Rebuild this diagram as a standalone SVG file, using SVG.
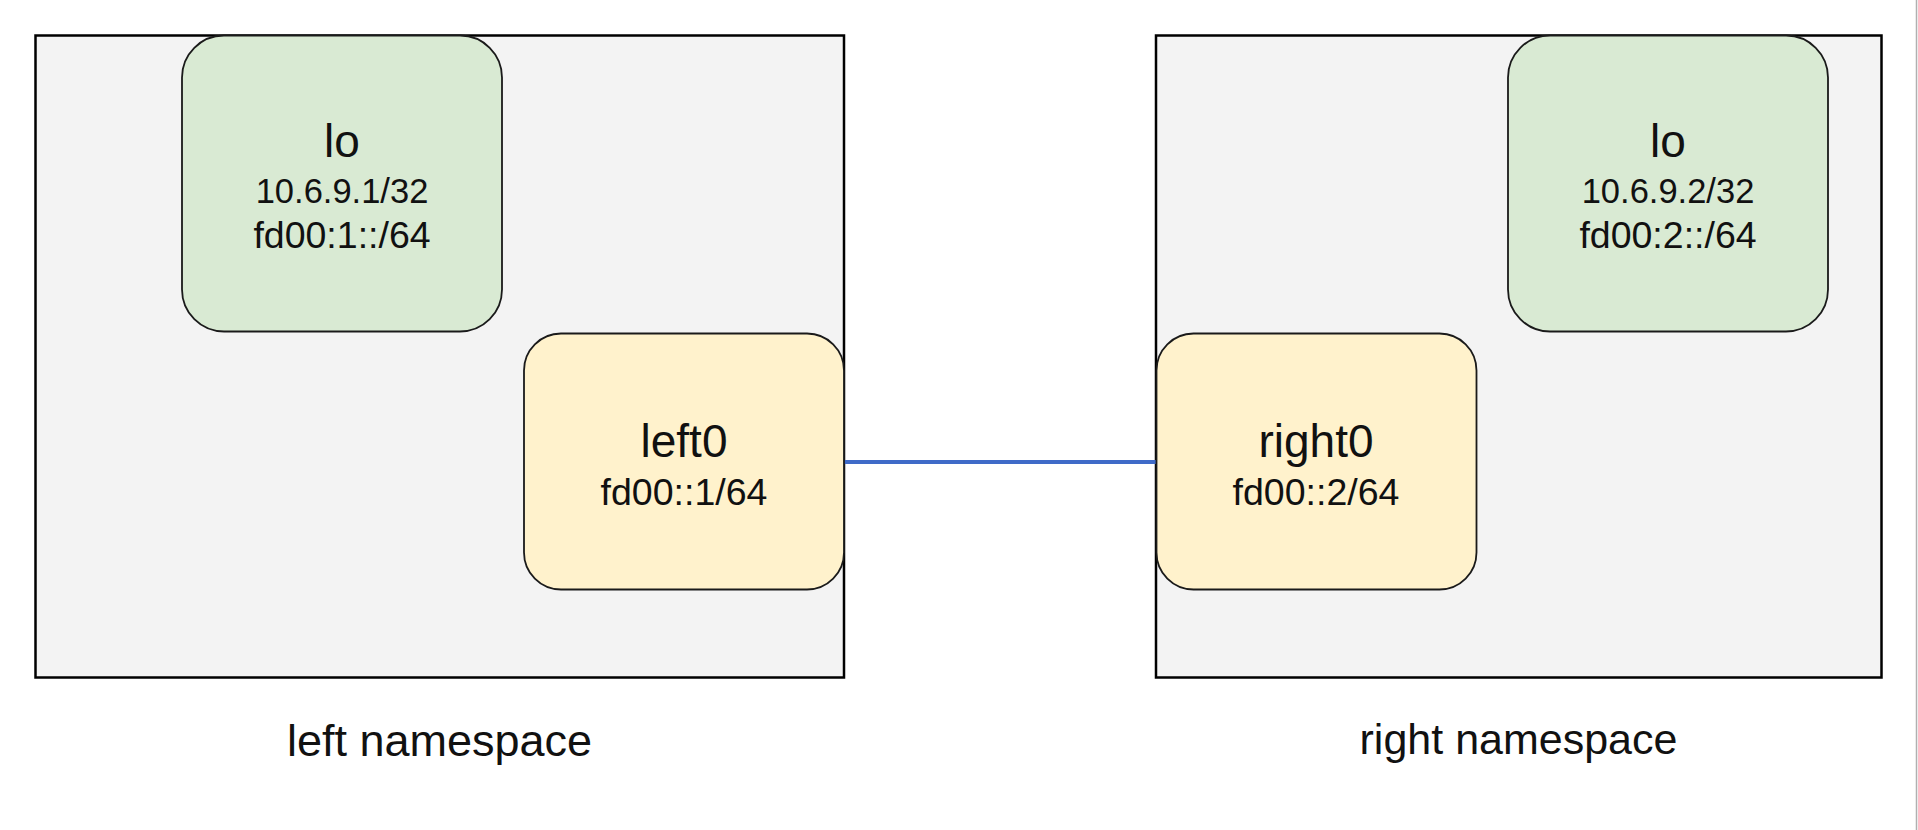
<svg xmlns="http://www.w3.org/2000/svg" width="1918" height="830" viewBox="0 0 1918 830">
<style>
.ns{fill:#f3f3f3;stroke:#000;stroke-width:2.5}
.lo{fill:#d9ead3;stroke:#1a1a1a;stroke-width:1.8}
.if{fill:#fff2cc;stroke:#1a1a1a;stroke-width:1.8}
text{font-family:"Liberation Sans",Arial,sans-serif;fill:#111;text-anchor:middle}
.t1{font-size:46px}
.t2{font-size:34.5px}
.t3{font-size:37.5px}
.lbl{font-size:45px}
.lbr{font-size:43px}
.link{stroke:#3f6bc8;stroke-width:4;fill:none}
</style>
<rect x="0" y="0" width="1918" height="830" fill="#fff"/>
<line x1="1916.5" y1="0" x2="1916.5" y2="830" stroke="#b0b0b0" stroke-width="1.5"/>
<g id="left-namespace">
<rect class="ns" x="35.5" y="35.5" width="808.5" height="642"/>
<text class="lbl" x="439.5" y="756">left namespace</text>
</g>
<g id="right-namespace">
<rect class="ns" x="1156" y="35.5" width="725.5" height="642"/>
<text class="lbr" x="1518.5" y="754">right namespace</text>
</g>
<g id="connectors">
<line class="link" x1="844" y1="462" x2="1156" y2="462"/>
</g>
<g id="left-lo">
<rect class="lo" x="182" y="35.5" width="320" height="296" rx="42" ry="42"/>
<text class="t1" x="342" y="157">lo</text>
<text class="t2" x="342" y="203">10.6.9.1/32</text>
<text class="t3" x="342" y="248">fd00:1::/64</text>
</g>
<g id="left0">
<rect class="if" x="524" y="333.5" width="320" height="256" rx="37" ry="37"/>
<text class="t1" x="684" y="457">left0</text>
<text class="t3" x="684" y="505">fd00::1/64</text>
</g>
<g id="right0">
<rect class="if" x="1156.5" y="333.5" width="320" height="256" rx="37" ry="37"/>
<text class="t1" x="1316" y="457">right0</text>
<text class="t3" x="1316" y="505">fd00::2/64</text>
</g>
<g id="right-lo">
<rect class="lo" x="1508" y="35.5" width="320" height="296" rx="42" ry="42"/>
<text class="t1" x="1668" y="157">lo</text>
<text class="t2" x="1668" y="203">10.6.9.2/32</text>
<text class="t3" x="1668" y="248">fd00:2::/64</text>
</g>
</svg>
